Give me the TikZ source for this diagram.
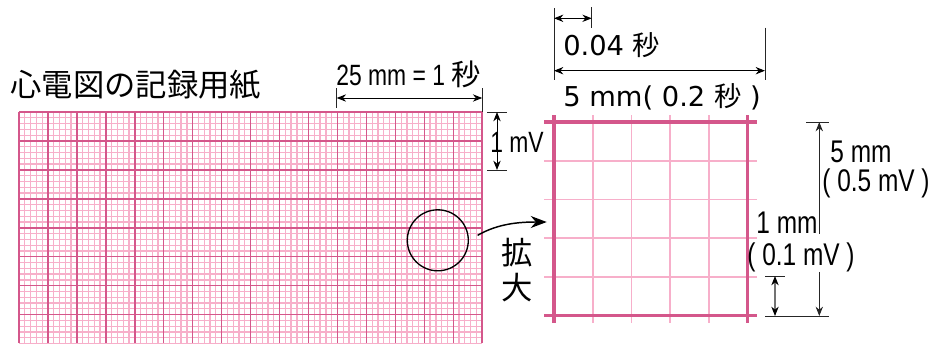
\documentclass[tikz,border=0pt]{standalone}
\usepackage{fontspec}
\setmainfont{Noto Sans CJK JP}
\newfontfamily\narrowfont[FakeStretch=0.78]{Liberation Sans}
\newfontfamily\dejafont{DejaVu Sans}
\usetikzlibrary{arrows.meta}
\definecolor{majorpink}{HTML}{D4578B}
\definecolor{minorpink}{HTML}{F7AFCA}

\begin{document}
\begin{tikzpicture}[
  x=0.75pt, y=-0.75pt,
  minorline/.style={minorpink, line width=0.95pt},
  majorline/.style={majorpink, line width=1.1pt},
  thinline/.style={minorpink, line width=1.2pt},
  thickline/.style={majorpink, line width=2.4pt},
  tick/.style={black!85, line width=0.7pt},
  dim/.style={{Stealth[length=7pt,width=5.5pt]}-{Stealth[length=7pt,width=5.5pt]}, line width=0.7pt},
  dimgray/.style={{Stealth[length=7pt,width=5.5pt,black]}-{Stealth[length=7pt,width=5.5pt,black]}, gray!90!black, line width=0.8pt},
  magarr/.style={-{Stealth[length=12pt,width=9pt]}, line width=1.1pt},
  narrowlbl/.style={font=\narrowfont\fontsize{22}{22}\selectfont, inner sep=0pt},
  sidelbl/.style={font=\narrowfont\fontsize{23.5}{23.5}\selectfont, inner sep=0pt},
  dejalbl/.style={font=\dejafont\fontsize{20.5}{20.5}\selectfont, inner sep=0pt, anchor=west},
  jplbl/.style={font=\fontsize{23.5}{26}\selectfont, inner sep=0pt, align=center},
]
\useasboundingbox (0,0) rectangle (932,343);
% ================= recording paper =================
\foreach \i in {0,...,80} {\draw[minorline] (19+\i*5.79,112) -- (19+\i*5.79,343);}
\foreach \j in {0,...,40} {\draw[minorline] (19,112+\j*5.79) -- (482.2,112+\j*5.79);}
\foreach \i in {0,...,16} {\draw[majorline] (19+\i*28.95,112) -- (19+\i*28.95,343);}
\foreach \j in {0,...,7} {\draw[majorline] (19,112+\j*28.95) -- (482.2,112+\j*28.95);}
\node[jplbl] (title) at (136,85) {心電図の記録用紙};
% 25 mm = 1 s
\coordinate (secL) at (336.7,98);
\coordinate (secR) at (482.2,98);
\draw[tick] (secL) ++(0,-10) -- ++(0,20);
\draw[tick] (secR) ++(0,-10) -- ++(0,24);
\draw[dim] (secL) -- (secR);
\node[narrowlbl] (secLbl) at (408.5,74) {25 mm = 1 {\normalfont 秒}};
% 1 mV
\coordinate (mvT) at (497,112);
\coordinate (mvB) at (497,170);
\draw[tick] (mvT) ++(-10,0) -- ++(20,0);
\draw[tick] (mvB) ++(-10,0) -- ++(20,0);
\draw[dim] (mvT) -- (mvB);
\node[narrowlbl] (mvLbl) at (517,142) {1 mV};
% ================= magnification =================
\node[circle, draw, line width=1pt, minimum size=45.75pt, inner sep=0pt] (zoomc) at (437.8,240.3) {};
\node[minimum width=145.5pt, minimum height=145.5pt, inner sep=0pt] (mag) at (651,219) {};
\draw[magarr, shorten <=7.5pt, shorten >=5.25pt] (zoomc.east) to[out=30, in=180] ([yshift=-2.25pt]mag.west);
\node[jplbl] (kakudai) at (517,270) {拡\\大};
% enlarged square
\foreach \i in {1,...,4} {
  \draw[thinline] (554+\i*38.7,115) -- (554+\i*38.7,322.5);
  \draw[thinline] (544,122+\i*38.7) -- (757,122+\i*38.7);
}
\foreach \i in {0,5} {
  \draw[thickline] (554+\i*38.7,115) -- (554+\i*38.7,322.5);
  \draw[thickline] (544,122+\i*38.7) -- (757,122+\i*38.7);
}
% ================= time dimensions =================
\coordinate (tL) at (554,18.3);
\coordinate (tS) at (591.7,18.3);
\coordinate (wL) at (554,70.7);
\coordinate (wR) at (765,70.7);
\draw[tick] (tL) ++(0,-10) -- ++(0,72);
\draw[tick] (tS) ++(0,-11) -- ++(0,21);
\draw[tick] (wR) ++(0,-43) -- ++(0,52);
\draw[dim] (tL) -- (tS);
\draw[dim] (wL) -- (wR);
\node[dejalbl] (minLbl) at (563,45) {0.04 {\normalfont 秒}};
\node[dejalbl] (bigLbl) at (563,97) {5 mm( 0.2 {\normalfont 秒} )};
% ================= voltage dimensions =================
\node[sidelbl] (fiveLbl) at (861,152) {5 mm};
\node[sidelbl] (fiveMv) at (876,183) {( 0.5 mV )};
\node[sidelbl] (oneLbl) at (787,223) {1 mm};
\node[sidelbl] (oneMv) at (801,257) {( 0.1 mV )};
\coordinate (vT) at (819.3,122);
\coordinate (vB) at (819.3,316);
\coordinate (hT) at (775,276);
\coordinate (hB) at (775,316);
\draw[tick] (vT) ++(-13.3,0) -- ++(23.3,0);
\draw[tick] (vB) ++(-54.3,0) -- ++(64.3,0);
\draw[tick] (hT) ++(-10,0) -- ++(20,0);
\draw[tick, {Stealth[length=7pt,width=5.5pt]}-] (vT) -- (vT |- oneLbl.south);
\draw[tick, -{Stealth[length=7pt,width=5.5pt]}] (vB |- oneMv.south) -- (vB);
\draw[dimgray] (hT) -- (hB);
\end{tikzpicture}
\end{document}
